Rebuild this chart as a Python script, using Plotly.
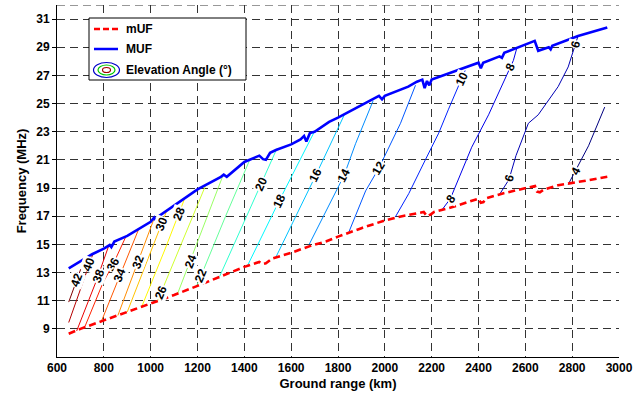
import numpy as np
import plotly.graph_objects as go

# ---------------- data ----------------
muf_range = [650, 700, 750, 800, 825, 832, 845, 900, 940, 1000, 1015, 1022, 1030, 1123, 1200, 1300,
             1312, 1325, 1400, 1464, 1480, 1492, 1510, 1535, 1600, 1640, 1655, 1665, 1680, 1700,
             1762, 1800, 1900, 1960, 1975, 1988, 2000, 2100, 2137, 2160, 2170, 2180, 2190, 2200,
             2300, 2386, 2400, 2410, 2420, 2490, 2500, 2510, 2600, 2627, 2640, 2655, 2700, 2708,
             2715, 2825, 2950]
muf_freq = [13.3, 13.8, 14.3, 14.7, 14.95, 14.8, 15.2, 15.6, 16.0, 16.6, 16.9, 16.7, 16.95, 18.0, 18.9, 19.8,
            19.95, 19.8, 20.85, 21.3, 21.05, 21.0, 21.5, 21.7, 22.1, 22.45, 22.7, 22.3, 22.9, 23.0,
            23.7, 24.0, 24.9, 25.45, 25.55, 25.3, 25.55, 26.2, 26.55, 26.7, 26.1, 26.6, 26.3, 26.7,
            27.3, 27.8, 27.9, 27.5, 27.9, 28.35, 28.25, 28.6, 29.2, 29.4, 29.45, 28.75, 29.0, 28.85,
            29.1, 29.8, 30.4]

min_range = [650, 700, 800, 900, 1000, 1100, 1200, 1300, 1400, 1464, 1480, 1492, 1520, 1600, 1691,
             1748, 1800, 1900, 2000, 2059, 2100, 2166, 2180, 2194, 2210, 2300, 2400, 2410, 2421,
             2430, 2500, 2600, 2641, 2650, 2662, 2680, 2740, 2850, 2950]
min_freq = [8.65, 9.0, 9.6, 10.2, 10.75, 11.4, 12.05, 12.7, 13.4, 13.75, 13.6, 13.65, 14.0, 14.4, 14.94,
            15.2, 15.55, 16.15, 16.7, 16.95, 17.1, 17.3, 17.0, 17.1, 17.3, 17.7, 18.25, 17.95, 18.0,
            18.25, 18.6, 19.0, 19.15, 18.75, 18.7, 18.9, 19.2, 19.5, 19.8]

# elevation-angle contours: (ground range km, frequency MHz)
elev_42 = ([650, 684, 718], [10.9, 12.45, 14.0])
elev_40 = ([650, 712, 754], [9.45, 12.45, 14.35])
elev_38 = ([684, 769, 822], [8.85, 12.45, 14.95])
elev_36 = ([719, 797, 840, 894], [9.15, 12.3, 13.6, 15.55])
elev_34 = ([790, 868, 948], [9.55, 12.8, 16.05])
elev_32 = ([860, 946, 1014], [9.95, 13.76, 16.8])
elev_30 = ([900, 1035, 1070], [10.2, 15.9, 17.45])
elev_28 = ([960, 1060, 1144], [10.5, 14.6, 18.2])
elev_26 = ([1030, 1045, 1140, 1235], [11.0, 11.6, 15.3, 19.2])
elev_24 = ([1115, 1170, 1309], [11.5, 13.85, 19.9])
elev_22 = ([1195, 1216, 1320, 1423], [12.0, 12.8, 17.0, 21.0])
elev_20 = ([1294, 1471, 1539], [12.7, 19.3, 21.8])
elev_18 = ([1414, 1549, 1699], [13.5, 18.1, 23.0])
elev_16 = ([1535, 1705, 1827], [14.1, 19.9, 24.2])
elev_14 = ([1677, 1826, 1875, 1950], [15.0, 19.9, 22.15, 25.2])
elev_12 = ([1847, 1918, 1974, 2003, 2067, 2131], [15.9, 18.8, 20.4, 21.4, 23.6, 26.3])
elev_10 = ([2045, 2102, 2173, 2230, 2272, 2329, 2343], [16.95, 18.6, 21.0, 22.9, 24.6, 26.75, 27.35])
elev_8 = ([2244, 2280, 2371, 2400, 2443, 2549, 2563], [17.45, 18.25, 21.9, 22.8, 24.2, 28.06, 28.9])
elev_6 = ([2492, 2530, 2560, 2613, 2655, 2740, 2783, 2811, 2825],
          [18.6, 19.6, 21.3, 23.6, 24.2, 26.2, 27.6, 29.0, 29.8])
elev_4 = ([2783, 2811, 2870, 2939], [19.25, 20.1, 22.0, 24.75])

levels = [42, 40, 38, 36, 34, 32, 30, 28, 26, 24, 22, 20, 18, 16, 14, 12, 10, 8, 6, 4]
contours = [elev_42, elev_40, elev_38, elev_36, elev_34, elev_32, elev_30, elev_28, elev_26,
            elev_24, elev_22, elev_20, elev_18, elev_16, elev_14, elev_12, elev_10, elev_8,
            elev_6, elev_4]

label_level = [42, 40, 38, 36, 34, 32, 30, 28, 26, 24, 22, 20, 18, 16, 14, 12, 10, 8, 8, 6, 6, 4]
label_range = [684, 737, 776, 840, 868, 946, 1047, 1120, 1045, 1170, 1216, 1471, 1549, 1705, 1826,
               1974, 2329, 2280, 2536, 2532, 2815, 2815]

x_ticks = list(range(600, 3001, 200))
y_ticks = list(range(9, 32, 2))

# ---------------- helpers ----------------
def jet(v, vmin=4, vmax=42):
    t = (v - vmin) / (vmax - vmin)
    def f(a):
        return min(1.0, max(0.0, a))
    r = f(1.5 - abs(4 * t - 3))
    g = f(1.5 - abs(4 * t - 2))
    b = f(1.5 - abs(4 * t - 1))
    return "rgb(%d,%d,%d)" % (r * 255, g * 255, b * 255)

X0, X1, Y0, Y1 = 600, 3000, 7, 32
L, R, T, B = 57, 25, 5, 39
W, H = 644, 396
pw, ph = W - L - R, H - T - B
sx = pw / (X1 - X0)
sy = ph / (Y1 - Y0)

fig = go.Figure()

for lev, (cx, cy) in zip(levels, contours):
    fig.add_trace(go.Scatter(x=cx, y=cy, mode="lines", line=dict(color=jet(lev), width=1),
                             showlegend=False, hoverinfo="skip"))

fig.add_trace(go.Scatter(x=min_range, y=min_freq, mode="lines",
                         line=dict(color="rgb(255,0,0)", width=2.6, dash="7px,4px"),
                         showlegend=False))
fig.add_trace(go.Scatter(x=muf_range, y=muf_freq, mode="lines",
                         line=dict(color="rgb(0,0,255)", width=2.6), showlegend=False))

lev_map = dict(zip(levels, contours))
for lev, lx in zip(label_level, label_range):
    cx, cy = lev_map[lev]
    ly = float(np.interp(lx, cx, cy))
    i = int(np.clip(np.searchsorted(cx, lx), 1, len(cx) - 1))
    dx = (cx[i] - cx[i - 1]) * sx
    dy = (cy[i] - cy[i - 1]) * sy
    ang = -np.degrees(np.arctan2(dy, dx))
    fig.add_annotation(x=lx, y=ly, text="<b>%d</b>" % lev, showarrow=False, textangle=ang,
                       font=dict(family="Liberation Sans", size=12, color="black"),
                       bgcolor="white", borderpad=0)

fig.add_shape(type="line", xref="paper", yref="y", x0=0, x1=1, y0=32, y1=32,
              line=dict(color="#333", width=1, dash="8px,5px"))

# ---------------- legend (drawn) ----------------
def px2paper(px, py):
    return (px - L) / pw, (H - B - py) / ph

bx0, by0 = px2paper(89, 80)
bx1, by1 = px2paper(246, 18)
fig.add_shape(type="rect", xref="paper", yref="paper", x0=bx0, y0=by0, x1=bx1, y1=by1,
              line=dict(color="black", width=1), fillcolor="white", layer="above")
for py, col, dash, name in [(29, "rgb(255,0,0)", "6px,3px", "mUF"), (49, "rgb(0,0,255)", "solid", "MUF")]:
    a0, b0 = px2paper(94, py)
    a1, _ = px2paper(118, py)
    fig.add_shape(type="line", xref="paper", yref="paper", x0=a0, x1=a1, y0=b0, y1=b0,
                  line=dict(color=col, width=2.5, dash=dash), layer="above")
    tx, ty = px2paper(124, py)
    fig.add_annotation(xref="paper", yref="paper", x=tx, y=ty, text="<b>%s</b>" % name,
                       showarrow=False, xanchor="left", yanchor="middle",
                       font=dict(family="Liberation Sans", size=12, color="black"))
for rx, ry, col in [(13, 7.5, "rgb(0,0,200)"), (8.5, 5, "rgb(0,200,0)"), (4, 2.5, "rgb(160,0,0)")]:
    a0, b0 = px2paper(106.5 - rx, 70 + ry)
    a1, b1 = px2paper(106.5 + rx, 70 - ry)
    fig.add_shape(type="circle", xref="paper", yref="paper", x0=a0, y0=b0, x1=a1, y1=b1,
                  line=dict(color=col, width=1.2), layer="above")
tx, ty = px2paper(124, 70)
fig.add_annotation(xref="paper", yref="paper", x=tx, y=ty, text="<b>Elevation Angle (°)</b>",
                   showarrow=False, xanchor="left", yanchor="middle",
                   font=dict(family="Liberation Sans", size=12, color="black"))

axis_font = dict(family="Liberation Sans", size=12, color="black")
fig.update_layout(
    width=W, height=H, margin=dict(l=L, r=R, t=T, b=B),
    paper_bgcolor="white", plot_bgcolor="white",
    xaxis=dict(range=[X0, X1], tickvals=x_ticks, ticktext=["<b>%d</b>" % v for v in x_ticks],
               showgrid=True, gridcolor="#333", griddash="8px,5px", gridwidth=1,
               showline=True, linecolor="black", linewidth=1, ticks="", zeroline=False,
               tickfont=axis_font, automargin=False,
               title=dict(text="<b>Ground range (km)</b>", font=dict(family="Liberation Sans", size=13, color="black"), standoff=4)),
    yaxis=dict(range=[Y0, Y1], tickvals=y_ticks, ticktext=["<b>%d</b>" % v for v in y_ticks],
               showgrid=True, gridcolor="#333", griddash="8px,5px", gridwidth=1,
               showline=True, linecolor="black", linewidth=1, ticks="outside", ticklen=4,
               tickcolor="black", zeroline=False, automargin=False,
               tickfont=axis_font, title=dict(text="<b>Frequency (MHz)</b>", font=dict(family="Liberation Sans", size=13, color="black"), standoff=6)),
)

fig.write_html("out.html", config={"displayModeBar": False},
               post_script="document.body.style.margin='0';document.body.style.overflow='hidden';")
